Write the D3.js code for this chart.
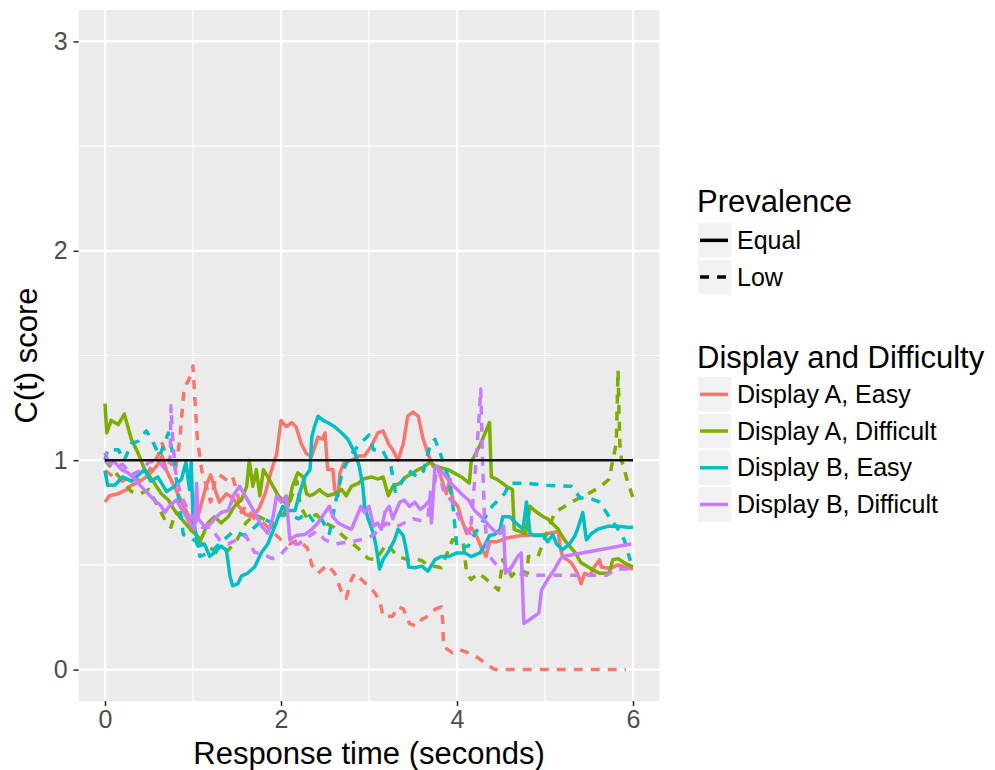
<!DOCTYPE html>
<html>
<head>
<meta charset="utf-8">
<script src="https://cdn.jsdelivr.net/npm/d3@7"></script>
<style>
  html, body { margin: 0; padding: 0; background: #ffffff; }
  svg { display: block; font-family: "Liberation Sans", Arial, Helvetica, sans-serif; }
</style>
</head>
<body>
<svg id="chart" width="995" height="770"></svg>
<script>
// ---- categories ----
const displayLevels = ["Display A, Easy", "Display A, Difficult", "Display B, Easy", "Display B, Difficult"];
const prevalenceLevels = ["Equal", "Low"];
const displayColors = ["#F8766D", "#7CAE00", "#00BFC4", "#C77CFF"];

// ---- axis ticks ----
const xTicks = [0, 2, 4, 6];
const yTicks = [0, 1, 2, 3];

// ---- reference level C(t) = 1 across the response window ----
const referenceLevel = 1;
const referenceSpan = [0, 6];

// ---- C(t) series: [response time (s), C(t) score] ----
const aEasyEqual = [[0,0.80],[0.05,0.83],[0.15,0.84],[0.25,0.86],[0.3,0.88],[0.4,0.9],[0.5,0.93],[0.6,0.98],[0.65,1.02],[0.7,0.95],[0.78,0.88],[0.85,0.82],[0.92,0.76],[1.0,0.68],[1.05,0.72],[1.1,0.8],[1.15,0.88],[1.2,0.93],[1.25,0.86],[1.3,0.8],[1.38,0.84],[1.45,0.82],[1.52,0.78],[1.6,0.74],[1.68,0.73],[1.75,0.77],[1.82,0.84],[1.89,0.95],[1.95,1.03],[2.0,1.19],[2.06,1.16],[2.12,1.18],[2.17,1.16],[2.23,1.08],[2.29,1.03],[2.35,1.02],[2.42,1.11],[2.47,1.1],[2.5,1.13],[2.53,0.955],[2.59,0.955],[2.61,0.86],[2.65,0.83],[2.67,0.94],[2.72,0.99],[2.8,1.0],[2.88,1.02],[2.95,1.02],[3.03,1.07],[3.1,1.13],[3.16,1.14],[3.22,1.08],[3.27,1.05],[3.33,1.0],[3.39,1.08],[3.44,1.21],[3.5,1.23],[3.56,1.21],[3.61,1.11],[3.67,1.03],[3.73,0.97],[3.78,0.97],[3.84,0.89],[3.88,0.84],[3.92,0.91],[3.95,0.81],[4.01,0.78],[4.05,0.72],[4.11,0.65],[4.16,0.68],[4.22,0.64],[4.29,0.57],[4.33,0.54],[4.37,0.61],[4.45,0.61],[4.58,0.63],[4.73,0.64],[4.98,0.645],[5.15,0.66],[5.17,0.59],[5.2,0.54],[5.3,0.51],[5.37,0.46],[5.41,0.41],[5.45,0.46],[5.51,0.45],[5.56,0.49],[5.62,0.525],[5.64,0.49],[5.7,0.485],[5.75,0.485],[5.83,0.5],[5.9,0.49],[6.0,0.48]];

const aEasyLow = [[0,0.95],[0.1,0.92],[0.2,0.9],[0.3,0.93],[0.4,0.9],[0.5,0.95],[0.6,1.02],[0.65,1.08],[0.7,1.02],[0.8,0.95],[0.85,1.1],[0.9,1.35],[0.95,1.38],[1.0,1.45],[1.02,1.3],[1.05,1.1],[1.1,0.95],[1.15,0.88],[1.2,0.8],[1.25,0.9],[1.3,0.93],[1.4,0.9],[1.45,0.92],[1.5,0.85],[1.55,0.75],[1.6,0.78],[1.7,0.72],[1.8,0.7],[1.9,0.66],[2.0,0.62],[2.1,0.6],[2.2,0.62],[2.3,0.58],[2.35,0.5],[2.42,0.46],[2.53,0.5],[2.61,0.46],[2.68,0.38],[2.74,0.34],[2.8,0.43],[2.84,0.46],[2.99,0.4],[3.06,0.37],[3.12,0.33],[3.16,0.255],[3.27,0.255],[3.33,0.3],[3.39,0.29],[3.46,0.22],[3.54,0.207],[3.6,0.24],[3.67,0.255],[3.76,0.29],[3.82,0.3],[3.84,0.22],[3.845,0.11],[3.95,0.08],[4.03,0.095],[4.13,0.08],[4.24,0.056],[4.37,0.016],[4.43,0],[5.92,0]];

const aDifficultEqual = [[0,1.27],[0.02,1.13],[0.07,1.19],[0.15,1.17],[0.22,1.22],[0.26,1.16],[0.3,1.1],[0.375,1.035],[0.45,0.955],[0.53,0.91],[0.64,0.84],[0.72,0.81],[0.79,0.76],[0.87,0.72],[0.94,0.685],[1.02,0.65],[1.09,0.62],[1.17,0.7],[1.245,0.73],[1.32,0.7],[1.4,0.73],[1.47,0.78],[1.55,0.81],[1.61,0.875],[1.64,1.0],[1.68,0.875],[1.72,0.955],[1.76,0.83],[1.8,0.955],[1.85,0.92],[1.91,0.875],[1.97,0.83],[2.02,0.81],[2.08,0.78],[2.13,0.875],[2.19,0.94],[2.25,0.92],[2.29,0.84],[2.33,0.83],[2.38,0.84],[2.44,0.86],[2.46,0.85],[2.53,0.83],[2.61,0.84],[2.69,0.86],[2.74,0.83],[2.8,0.875],[2.88,0.89],[2.93,0.91],[3.03,0.92],[3.1,0.91],[3.16,0.92],[3.22,0.83],[3.27,0.875],[3.35,0.89],[3.42,0.92],[3.5,0.94],[3.56,0.955],[3.63,0.97],[3.69,0.99],[3.76,0.97],[3.9,0.955],[4.05,0.92],[4.14,0.89],[4.16,0.99],[4.26,1.07],[4.37,1.18],[4.39,0.92],[4.45,0.91],[4.58,0.87],[4.63,0.86],[4.65,0.67],[4.71,0.66],[4.78,0.65],[4.83,0.78],[4.88,0.76],[4.98,0.73],[5.03,0.72],[5.15,0.67],[5.22,0.62],[5.34,0.56],[5.41,0.51],[5.53,0.48],[5.62,0.46],[5.73,0.46],[5.77,0.525],[5.83,0.53],[5.9,0.51],[6.0,0.49]];

const aDifficultLow = [[0,1.0],[0.1,0.95],[0.2,0.9],[0.3,0.85],[0.4,0.84],[0.5,0.86],[0.6,0.78],[0.7,0.7],[0.75,0.68],[0.8,0.75],[0.9,0.72],[1.0,0.65],[1.1,0.6],[1.2,0.58],[1.3,0.55],[1.4,0.57],[1.5,0.62],[1.6,0.7],[1.7,0.74],[1.8,0.72],[1.9,0.68],[2.0,0.72],[2.1,0.8],[2.18,0.9],[2.22,0.78],[2.3,0.72],[2.4,0.74],[2.5,0.7],[2.6,0.68],[2.7,0.64],[2.76,0.62],[2.875,0.58],[2.99,0.53],[3.08,0.525],[3.2,0.6],[3.33,0.54],[3.44,0.525],[3.52,0.53],[3.6,0.52],[3.67,0.5],[3.82,0.486],[3.95,0.62],[4.07,0.61],[4.11,0.46],[4.16,0.43],[4.24,0.46],[4.31,0.44],[4.47,0.38],[4.5,0.46],[4.52,0.525],[4.62,0.445],[4.69,0.48],[4.8,0.46],[4.81,0.54],[4.92,0.54],[5.11,0.75],[5.3,0.8],[5.49,0.84],[5.62,0.87],[5.73,0.91],[5.77,1.0],[5.81,1.08],[5.83,1.43],[5.85,1.08],[5.87,1.0],[5.93,0.91],[6.0,0.82]];

const bEasyEqual = [[0,0.95],[0.03,0.88],[0.11,0.88],[0.2,0.92],[0.3,0.9],[0.38,0.93],[0.45,0.955],[0.52,0.9],[0.6,0.92],[0.7,0.85],[0.79,0.875],[0.87,0.91],[0.92,0.99],[0.96,0.86],[0.98,0.99],[1.0,0.72],[1.06,0.59],[1.13,0.6],[1.19,0.54],[1.245,0.56],[1.32,0.59],[1.38,0.57],[1.42,0.446],[1.45,0.4],[1.51,0.41],[1.55,0.446],[1.62,0.46],[1.7,0.49],[1.78,0.56],[1.85,0.6],[1.93,0.685],[1.97,0.73],[2.02,0.78],[2.08,0.76],[2.16,0.76],[2.21,0.84],[2.27,0.92],[2.33,0.955],[2.35,1.11],[2.38,1.16],[2.42,1.21],[2.48,1.19],[2.53,1.18],[2.61,1.16],[2.69,1.13],[2.76,1.1],[2.84,1.035],[2.89,0.97],[2.93,0.875],[2.95,0.78],[2.99,0.72],[3.05,0.65],[3.08,0.59],[3.12,0.48],[3.16,0.525],[3.23,0.57],[3.29,0.62],[3.33,0.67],[3.39,0.64],[3.43,0.557],[3.45,0.49],[3.52,0.486],[3.6,0.494],[3.67,0.47],[3.75,0.525],[3.82,0.54],[3.9,0.54],[4.0,0.557],[4.09,0.557],[4.16,0.54],[4.26,0.557],[4.31,0.59],[4.37,0.64],[4.43,0.645],[4.49,0.67],[4.52,0.73],[4.6,0.73],[4.67,0.7],[4.75,0.67],[4.79,0.8],[4.83,0.65],[4.88,0.64],[4.98,0.64],[5.03,0.61],[5.09,0.645],[5.13,0.6],[5.2,0.573],[5.28,0.6],[5.34,0.64],[5.37,0.67],[5.43,0.75],[5.47,0.62],[5.53,0.65],[5.6,0.67],[5.72,0.685],[5.83,0.685],[5.94,0.68],[6.0,0.68]];

const bEasyLow = [[0,1.0],[0.03,1.05],[0.15,1.05],[0.22,1.0],[0.3,1.08],[0.375,1.09],[0.47,1.14],[0.53,1.1],[0.62,1.02],[0.72,1.13],[0.79,0.99],[0.84,0.8],[0.89,0.645],[0.94,0.64],[1.04,0.61],[1.08,0.54],[1.17,0.557],[1.25,0.58],[1.35,0.62],[1.46,0.66],[1.59,0.64],[1.7,0.68],[1.8,0.72],[1.9,0.7],[2.0,0.74],[2.1,0.74],[2.2,0.72],[2.3,0.75],[2.38,0.7],[2.46,0.72],[2.55,0.65],[2.62,0.8],[2.7,0.95],[2.8,1.03],[2.9,1.08],[3.0,1.12],[3.05,1.05],[3.15,1.05],[3.25,0.97],[3.3,0.85],[3.38,0.9],[3.45,0.95],[3.55,0.92],[3.62,0.95],[3.7,1.08],[3.75,1.1],[3.82,1.02],[3.9,0.92],[3.95,0.8],[4.0,0.58],[4.13,0.59],[4.16,0.62],[4.28,0.7],[4.4,0.78],[4.54,0.84],[4.6,0.89],[4.8,0.89],[5.0,0.88],[5.3,0.875],[5.4,0.82],[5.5,0.82],[5.62,0.8],[5.73,0.73],[5.83,0.67],[5.9,0.62],[5.97,0.52]];

const bDifficultEqual = [[0,1.035],[0.03,1.0],[0.11,0.99],[0.19,0.955],[0.26,0.94],[0.34,0.91],[0.41,0.875],[0.49,0.84],[0.56,0.81],[0.64,0.78],[0.68,0.75],[0.73,0.78],[0.81,0.81],[0.85,0.78],[0.9,0.75],[0.96,0.7],[1.02,0.67],[1.04,0.89],[1.06,0.72],[1.13,0.685],[1.21,0.7],[1.245,0.72],[1.32,0.75],[1.4,0.76],[1.47,0.84],[1.53,0.875],[1.62,0.81],[1.7,0.75],[1.78,0.685],[1.85,0.65],[1.91,0.73],[1.95,0.83],[2.0,0.8],[2.06,0.83],[2.1,0.62],[2.17,0.64],[2.27,0.645],[2.35,0.67],[2.42,0.7],[2.5,0.75],[2.55,0.78],[2.59,0.73],[2.65,0.7],[2.72,0.685],[2.8,0.67],[2.86,0.73],[2.91,0.78],[2.95,0.75],[3.0,0.78],[3.05,0.685],[3.1,0.7],[3.14,0.67],[3.18,0.75],[3.23,0.78],[3.27,0.72],[3.35,0.8],[3.4,0.81],[3.46,0.78],[3.52,0.8],[3.58,0.765],[3.63,0.78],[3.69,0.81],[3.71,0.7],[3.75,0.97],[3.84,0.94],[3.93,0.89],[4.05,0.84],[4.13,0.81],[4.2,0.76],[4.3,0.72],[4.37,0.685],[4.43,0.66],[4.49,0.65],[4.53,0.685],[4.55,0.46],[4.62,0.49],[4.69,0.54],[4.73,0.557],[4.76,0.22],[4.88,0.255],[4.93,0.27],[4.96,0.38],[5.03,0.43],[5.11,0.48],[5.17,0.525],[5.2,0.54],[5.98,0.6]];

const bDifficultLow = [[0,1.0],[0.1,0.97],[0.2,0.98],[0.3,0.93],[0.4,0.95],[0.5,0.99],[0.6,1.0],[0.7,0.95],[0.74,1.0],[0.75,1.26],[0.77,1.1],[0.8,0.95],[0.85,0.85],[0.9,0.8],[1.0,0.72],[1.1,0.68],[1.2,0.68],[1.3,0.62],[1.4,0.6],[1.5,0.62],[1.6,0.64],[1.7,0.56],[1.8,0.55],[1.9,0.53],[2.0,0.55],[2.1,0.6],[2.2,0.6],[2.3,0.63],[2.4,0.66],[2.5,0.62],[2.6,0.6],[2.8,0.61],[3.0,0.63],[3.1,0.66],[3.2,0.7],[3.3,0.68],[3.4,0.7],[3.5,0.72],[3.6,0.71],[3.67,0.73],[3.7,0.85],[3.75,0.9],[3.78,0.97],[3.85,0.85],[3.95,0.8],[4.05,0.7],[4.15,0.65],[4.2,0.9],[4.25,1.2],[4.27,1.34],[4.29,1.0],[4.31,0.75],[4.35,0.55],[4.45,0.5],[4.6,0.47],[4.8,0.45],[5.0,0.45],[5.2,0.45],[5.7,0.45],[5.8,0.48],[6.0,0.48]];

// drawing order: display/difficulty, then prevalence
const seriesList = [
  { display: 0, prevalence: 0, values: aEasyEqual },
  { display: 0, prevalence: 1, values: aEasyLow },
  { display: 1, prevalence: 0, values: aDifficultEqual },
  { display: 1, prevalence: 1, values: aDifficultLow },
  { display: 2, prevalence: 0, values: bEasyEqual },
  { display: 2, prevalence: 1, values: bEasyLow },
  { display: 3, prevalence: 0, values: bDifficultEqual },
  { display: 3, prevalence: 1, values: bDifficultLow }
];

// ---- layout ----
const panel = { left: 78.6, right: 659.4, top: 10, bottom: 701 };
const dashPattern = "9,8";
const lineWidth = 3.5;

const svg = d3.select("#chart");

const x = d3.scaleLinear().domain([-0.3, 6.3]).range([panel.left, panel.right]);
const y = d3.scaleLinear().domain([-0.15, 3.15]).range([panel.bottom, panel.top]);

// panel background
svg.append("rect")
  .attr("x", panel.left).attr("y", panel.top)
  .attr("width", panel.right - panel.left).attr("height", panel.bottom - panel.top)
  .attr("fill", "#EBEBEB");

// minor grid lines
const xMinor = [1, 3, 5];
const yMinor = [0.5, 1.5, 2.5];
const grid = svg.append("g");
grid.selectAll(".xminor").data(xMinor).join("line")
  .attr("x1", d => x(d)).attr("x2", d => x(d))
  .attr("y1", panel.top).attr("y2", panel.bottom)
  .attr("stroke", "#ffffff").attr("stroke-width", 1.1);
grid.selectAll(".yminor").data(yMinor).join("line")
  .attr("x1", panel.left).attr("x2", panel.right)
  .attr("y1", d => y(d)).attr("y2", d => y(d))
  .attr("stroke", "#ffffff").attr("stroke-width", 1.1);
// major grid lines
grid.selectAll(".xmajor").data(xTicks).join("line")
  .attr("x1", d => x(d)).attr("x2", d => x(d))
  .attr("y1", panel.top).attr("y2", panel.bottom)
  .attr("stroke", "#ffffff").attr("stroke-width", 2.2);
grid.selectAll(".ymajor").data(yTicks).join("line")
  .attr("x1", panel.left).attr("x2", panel.right)
  .attr("y1", d => y(d)).attr("y2", d => y(d))
  .attr("stroke", "#ffffff").attr("stroke-width", 2.2);

// series lines
const line = d3.line().x(d => x(d[0])).y(d => y(d[1]));
svg.append("g").selectAll("path").data(seriesList).join("path")
  .attr("d", d => line(d.values))
  .attr("fill", "none")
  .attr("stroke", d => displayColors[d.display])
  .attr("stroke-width", lineWidth)
  .attr("stroke-linejoin", "round")
  .attr("stroke-dasharray", d => d.prevalence === 1 ? dashPattern : null);

// reference line
svg.append("line")
  .attr("x1", x(referenceSpan[0])).attr("x2", x(referenceSpan[1]))
  .attr("y1", y(referenceLevel)).attr("y2", y(referenceLevel))
  .attr("stroke", "#111111").attr("stroke-width", 2.4);

// axes
const xAxis = svg.append("g")
  .attr("transform", `translate(0,${panel.bottom})`)
  .call(d3.axisBottom(x).tickValues(xTicks).tickSize(5).tickPadding(4).tickFormat(d3.format("d")));
const yAxis = svg.append("g")
  .attr("transform", `translate(${panel.left},0)`)
  .call(d3.axisLeft(y).tickValues(yTicks).tickSize(5).tickPadding(6).tickFormat(d3.format("d")));
[xAxis, yAxis].forEach(g => {
  g.select(".domain").remove();
  g.selectAll(".tick line").attr("stroke", "#333333").attr("stroke-width", 1.6);
  g.selectAll(".tick text")
    .attr("fill", "#4D4D4D")
    .style("font-size", "25px")
    .style("font-family", "\"Liberation Sans\", Arial, Helvetica, sans-serif");
});

// axis titles
svg.append("text")
  .attr("x", (panel.left + panel.right) / 2).attr("y", 764)
  .attr("text-anchor", "middle")
  .attr("fill", "#000000")
  .style("font-size", "31px")
  .text("Response time (seconds)");
svg.append("text")
  .attr("transform", `translate(37,${(panel.top + panel.bottom) / 2}) rotate(-90)`)
  .attr("text-anchor", "middle")
  .attr("fill", "#000000")
  .style("font-size", "31px")
  .text("C(t) score");

// ---- legends ----
const legendX = 697;
const keyW = 35, keyH = 36.7;

function drawLegend(title, titleY, firstKeyY, labels, styleFn) {
  const g = svg.append("g");
  g.append("text")
    .attr("x", legendX).attr("y", titleY)
    .attr("fill", "#000000")
    .style("font-size", "31px")
    .text(title);
  const rows = g.selectAll(".row").data(labels).join("g")
    .attr("transform", (d, i) => `translate(${legendX},${firstKeyY + i * keyH})`);
  rows.append("rect")
    .attr("width", keyW).attr("height", keyH)
    .attr("fill", "#F2F2F2").attr("stroke", "#ffffff").attr("stroke-width", 2);
  rows.append("line")
    .attr("x1", 3).attr("x2", keyW - 4)
    .attr("y1", keyH / 2).attr("y2", keyH / 2)
    .each(function(d, i) { styleFn(d3.select(this), i); });
  rows.append("text")
    .attr("x", keyW + 5).attr("y", keyH / 2)
    .attr("dy", "0.35em")
    .attr("fill", "#000000")
    .style("font-size", "25px")
    .text(d => d);
}

drawLegend("Prevalence", 212, 222, prevalenceLevels, (sel, i) => {
  sel.attr("stroke", "#000000").attr("stroke-width", lineWidth)
     .attr("stroke-dasharray", i === 1 ? dashPattern : null);
});

drawLegend("Display and Difficulty", 368, 376, displayLevels, (sel, i) => {
  sel.attr("stroke", displayColors[i]).attr("stroke-width", lineWidth);
});
</script>
</body>
</html>
